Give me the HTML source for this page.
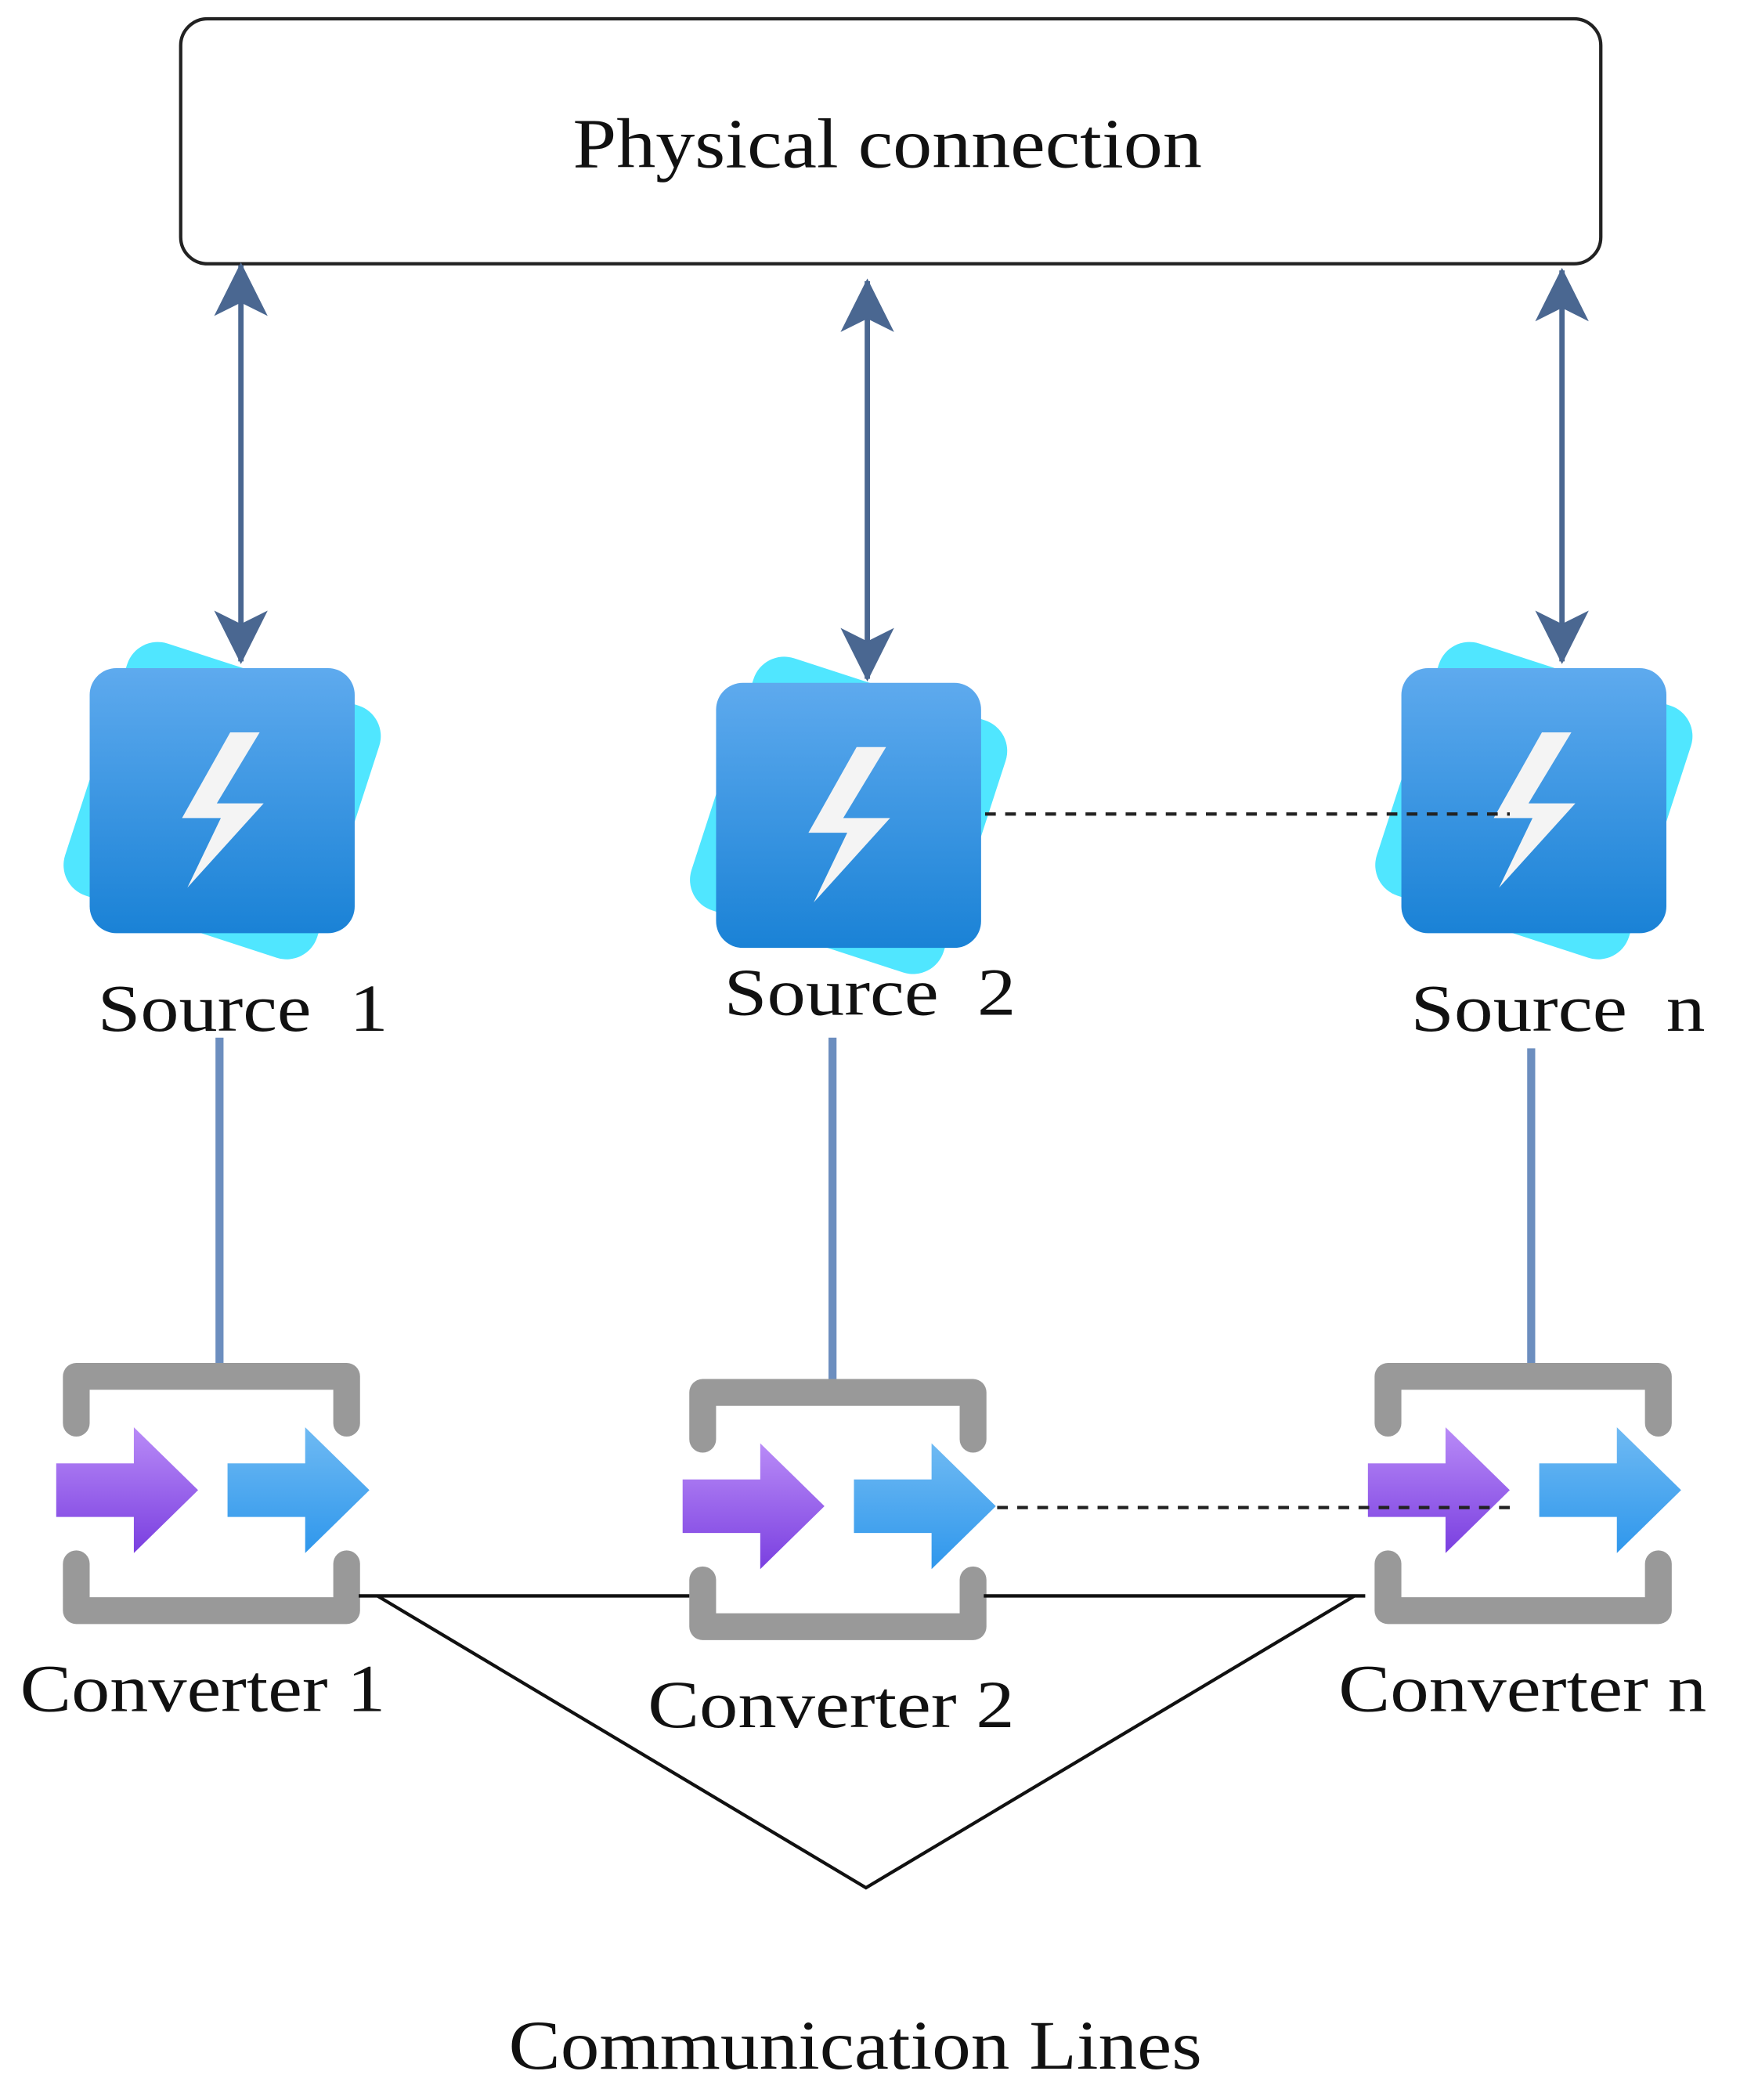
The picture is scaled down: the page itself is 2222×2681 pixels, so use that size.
<!DOCTYPE html>
<html><head><meta charset="utf-8"><style>
html,body{margin:0;padding:0;background:#fff;}
svg{display:block;}
text{font-family:"Liberation Serif",serif;fill:#111;}
</style></head><body>
<svg width="2222" height="2681" viewBox="0 0 1300 1568.5" xmlns="http://www.w3.org/2000/svg">
<defs>
<linearGradient id="bg" x1="0" y1="0" x2="0" y2="1"><stop offset="0" stop-color="#5eaaee"/><stop offset="1" stop-color="#1a82d6"/></linearGradient>
<linearGradient id="pg" x1="0" y1="0" x2="0" y2="1"><stop offset="0" stop-color="#b98bf7"/><stop offset="1" stop-color="#7a3fe0"/></linearGradient>
<linearGradient id="lg" x1="0" y1="0" x2="0" y2="1"><stop offset="0" stop-color="#6fbaf3"/><stop offset="1" stop-color="#2f97ec"/></linearGradient>
<marker id="ah" viewBox="0 0 20 20" refX="18" refY="10" markerWidth="20" markerHeight="20" markerUnits="userSpaceOnUse" orient="auto-start-reverse" overflow="visible">
<path d="M-20,-10 L20,10 L-20,30 L-10,10 Z" fill="#4a6791"/>
</marker>
<g id="src">
<rect x="-99" y="-99" width="198" height="198" rx="24" fill="#50e6ff" transform="rotate(18)"/>
<rect x="-99" y="-99" width="198" height="198" rx="20" fill="url(#bg)"/>
<polygon points="6,-51 28,-51 -4,2 31,2 -26,65 -1,13 -30,13" fill="#f4f4f4"/>
</g>
<g id="conv">
<path d="M10,45 V10 H212 V45" fill="none" stroke="#999" stroke-width="20" stroke-linejoin="round" stroke-linecap="round"/>
<path d="M10,150 V185 H212 V150" fill="none" stroke="#999" stroke-width="20" stroke-linejoin="round" stroke-linecap="round"/>
<polygon points="-5,75 53,75 53,48 101,95 53,142 53,115 -5,115" fill="url(#pg)"/>
<polygon points="123,75 181,75 181,48 229,95 181,142 181,115 123,115" fill="url(#lg)"/>
</g>
</defs>

<rect x="135" y="14" width="1061" height="183" rx="20" fill="#fff" stroke="#222" stroke-width="2.5"/>
<text x="428" y="125" font-size="53" textLength="470" lengthAdjust="spacingAndGlyphs">Physical connection</text>

<use href="#src" x="166" y="598"/>
<use href="#src" x="634" y="609"/>
<use href="#src" x="1146" y="598"/>

<line x1="180" y1="198" x2="180" y2="494" stroke="#4a6791" stroke-width="4" marker-start="url(#ah)" marker-end="url(#ah)"/>
<line x1="648" y1="210" x2="648" y2="507" stroke="#4a6791" stroke-width="4" marker-start="url(#ah)" marker-end="url(#ah)"/>
<line x1="1167" y1="202" x2="1167" y2="494" stroke="#4a6791" stroke-width="4" marker-start="url(#ah)" marker-end="url(#ah)"/>

<line x1="736" y1="608" x2="1128" y2="608" stroke="#222" stroke-width="2.5" stroke-dasharray="8,7"/>

<text x="73" y="770" font-size="50" textLength="217" lengthAdjust="spacingAndGlyphs">Source&#160;&#160;1</text>
<text x="541" y="758" font-size="50" textLength="218" lengthAdjust="spacingAndGlyphs">Source&#160;&#160;2</text>
<text x="1054" y="770" font-size="50" textLength="220" lengthAdjust="spacingAndGlyphs">Source&#160;&#160;n</text>

<line x1="164" y1="775" x2="164" y2="1025" stroke="#6c8ebf" stroke-width="6"/>
<line x1="622" y1="775" x2="622" y2="1030" stroke="#6c8ebf" stroke-width="6"/>
<line x1="1144" y1="783" x2="1144" y2="1018" stroke="#6c8ebf" stroke-width="6"/>

<use href="#conv" x="47" y="1018"/>
<use href="#conv" x="515" y="1030"/>
<use href="#conv" x="1027" y="1018"/>

<line x1="745" y1="1126" x2="1135" y2="1126" stroke="#222" stroke-width="2.5" stroke-dasharray="8,7"/>

<g stroke="#111" stroke-width="2.5" fill="none">
<line x1="268" y1="1192" x2="515" y2="1192"/>
<line x1="735" y1="1192" x2="1020" y2="1192"/>
<polyline points="282,1192 647,1410 1012,1192"/>
</g>

<text x="15" y="1278" font-size="50" textLength="273" lengthAdjust="spacingAndGlyphs">Converter 1</text>
<text x="484" y="1290" font-size="50" textLength="274" lengthAdjust="spacingAndGlyphs">Converter 2</text>
<text x="1000" y="1278" font-size="50" textLength="275" lengthAdjust="spacingAndGlyphs">Converter n</text>
<text x="380" y="1545" font-size="52" textLength="518" lengthAdjust="spacingAndGlyphs">Communication Lines</text>
</svg>
</body></html>
